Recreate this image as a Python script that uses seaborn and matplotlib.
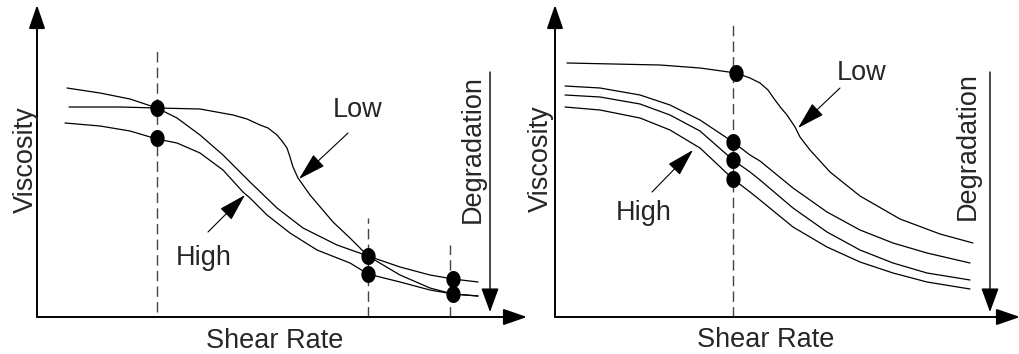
import numpy as np
import pandas as pd
import matplotlib
matplotlib.use("Agg")
import matplotlib.pyplot as plt
import seaborn as sns

sns.set_style("white")
plt.rcParams['font.family'] = ['Liberation Sans', 'DejaVu Sans']

# ---------------- Left panel data (shear rate, viscosity; arbitrary units) ----------------
left_x_top = [30, 63, 93, 120, 140, 163, 186, 213, 240, 266, 300, 331, 363, 393, 416, 441]
left_y_top = [229, 224, 218, 209, 199, 182, 162, 135, 109, 89, 72, 61, 50, 42, 38, 35]

left_x_low = [32, 83, 120, 163, 196, 210, 223, 231, 240, 245, 250, 253, 256, 261, 273, 296, 313, 331, 363, 393, 416, 441]
left_y_low = [210, 210, 209, 208, 202, 198, 192, 189, 182, 176, 169, 160, 150, 139, 122, 95, 79, 61, 42, 29, 23, 21]

left_x_bot = [28, 63, 93, 120, 140, 163, 186, 206, 213, 230, 253, 280, 313, 331, 363, 393, 416, 441]
left_y_bot = [194, 191, 186, 178, 174, 164, 147, 125, 119, 102, 84, 67, 54, 43, 35, 27, 23, 21]

left_dot_x = [120, 120, 331, 331, 416, 416]
left_dot_y = [209, 179, 61, 43, 38, 23]

left_ref_x = [120, 331, 413]      # dashed reference shear rates
left_ref_top = [270, 99, 72]
left_ref_bot = [5, 0, 0]

# ---------------- Right panel data ----------------
right_x_low = [12, 105, 145, 181, 195, 205, 213, 220, 226, 232, 236, 240, 245, 255, 275, 305, 345, 385, 418]
right_y_low = [254, 252, 249, 244, 239, 234, 227, 217, 209, 202, 196, 190, 180, 167, 145, 121, 98, 83, 74]

right_x = [10, 45, 85, 115, 145, 178, 195, 205, 238, 272, 305, 338, 372, 415]
right_y_a = [231, 229, 222, 212, 197, 175, 162, 156, 129, 105, 87, 74, 64, 54]
right_y_b = [222, 220, 213, 202, 186, 157, 145, 137, 109, 85, 67, 54, 44, 37]
right_y_c = [210, 207, 199, 187, 169, 138, 125, 117, 90, 70, 55, 44, 35, 28]

right_dot_x = [181, 178, 178, 178]
right_dot_y = [244, 175, 157, 138]

right_ref_x = [178]
right_ref_top = [296]
right_ref_bot = [0]

# text labels
x_label = "Shear Rate"
y_label = "Viscosity"
deg_label = "Degradation"
low_label = "Low"
high_label = "High"

W, H = 1020, 354
fig = plt.figure(figsize=(W / 100, H / 100), dpi=100)
FS = 19.5

# ellipse marker
th = np.linspace(0, 2 * np.pi, 40)
ell = list(zip(0.42 * np.cos(th), 0.5 * np.sin(th)))


def arrow(ax, x0, y0, x1, y1, hl, hw, lw):
    ax.annotate("", xy=(x1, y1), xytext=(x0, y0), xycoords="data",
                arrowprops=dict(arrowstyle=f"-|>,head_length={hl},head_width={hw}",
                                color="black", lw=lw, shrinkA=0, shrinkB=0,
                                mutation_scale=10),
                annotation_clip=False)


def setup(ax, xmax, ymax):
    ax.set_xlim(0, xmax)
    ax.set_ylim(0, ymax)
    for s in ax.spines.values():
        s.set_visible(False)
    ax.set_xticks([])
    ax.set_yticks([])
    ax.set_xlabel("")
    ax.set_ylabel("")
    ax.patch.set_alpha(0)
    arrow(ax, 0, 0, 0, ymax, 1.45, 0.5, 1.4)
    arrow(ax, 0, 0, xmax, 0, 1.45, 0.5, 1.4)


def draw_curve(ax, xs, ys):
    df = pd.DataFrame({"x": xs, "y": ys})
    sns.lineplot(data=df, x="x", y="y", ax=ax, sort=False, estimator=None,
                 color="black", lw=0.9)


# ---------------- Left ----------------
axL = fig.add_axes([37 / W, 37 / H, 490 / W, 312 / H])
for xs, ys in [(left_x_top, left_y_top), (left_x_low, left_y_low), (left_x_bot, left_y_bot)]:
    draw_curve(axL, xs, ys)
axL.vlines(left_ref_x, left_ref_bot, left_ref_top, colors="#444444", lw=1.0,
           linestyles=(0, (7.5, 3.75)))
sns.scatterplot(x=left_dot_x, y=left_dot_y, ax=axL, marker=ell, s=150,
                color="black", edgecolor="black", linewidth=0, zorder=5)
setup(axL, 490, 312)
arrow(axL, 453, 245, 453, 5, 1.5, 0.55, 1.0)
axL.text(443, 168, deg_label, rotation=90, rotation_mode="anchor",
         ha="center", va="baseline", fontsize=FS)
axL.text(-4, 157, y_label, rotation=90, rotation_mode="anchor",
         ha="center", va="baseline", fontsize=FS)
axL.text(238, -31, x_label, ha="center", va="baseline", fontsize=FS)
axL.text(321, 200, low_label, ha="center", va="baseline", fontsize=FS)
axL.text(167, 52, high_label, ha="center", va="baseline", fontsize=FS)
arrow(axL, 311, 184, 262, 138, 1.75, 0.5, 0.8)
arrow(axL, 171, 85, 208, 122, 1.75, 0.5, 0.8)

# ---------------- Right ----------------
axR = fig.add_axes([555 / W, 37 / H, 465 / W, 312 / H])
draw_curve(axR, right_x_low, right_y_low)
for ys in [right_y_a, right_y_b, right_y_c]:
    draw_curve(axR, right_x, ys)
axR.vlines(right_ref_x, right_ref_bot, right_ref_top, colors="#444444", lw=1.0,
           linestyles=(0, (7.5, 3.75)))
sns.scatterplot(x=right_dot_x, y=right_dot_y, ax=axR, marker=ell, s=150,
                color="black", edgecolor="black", linewidth=0, zorder=5)
setup(axR, 465, 312)
arrow(axR, 435, 245, 435, 5, 1.5, 0.55, 1.0)
axR.text(420, 171, deg_label, rotation=90, rotation_mode="anchor",
         ha="center", va="baseline", fontsize=FS)
axR.text(-7, 158, y_label, rotation=90, rotation_mode="anchor",
         ha="center", va="baseline", fontsize=FS)
axR.text(211, -30, x_label, ha="center", va="baseline", fontsize=FS)
axR.text(307, 237, low_label, ha="center", va="baseline", fontsize=FS)
axR.text(89, 97, high_label, ha="center", va="baseline", fontsize=FS)
arrow(axR, 285, 229, 243, 189, 1.75, 0.5, 0.8)
arrow(axR, 97, 125, 138, 167, 1.75, 0.5, 0.8)

fig.savefig("out.png", dpi=100, facecolor="white")
